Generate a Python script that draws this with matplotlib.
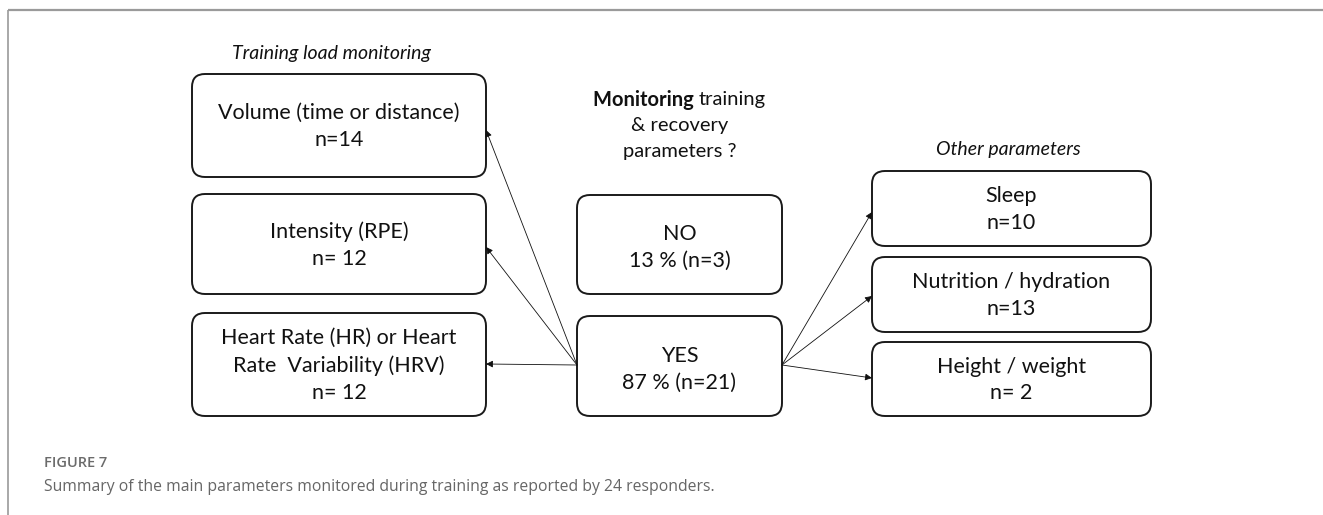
import matplotlib
matplotlib.use("Agg")
import matplotlib.pyplot as plt
from matplotlib.patches import FancyBboxPatch

# ---- data ----
left_title = "Training load monitoring"
left_labels = ["Volume (time or distance)", "Intensity (RPE)", "Heart Rate (HR) or Heart\nRate  Variability (HRV)"]
left_counts = ["n=14", "n= 12", "n= 12"]

question_bold = "Monitoring"
question_rest = ["training", "& recovery", "parameters ?"]
answer_labels = ["NO", "YES"]
answer_pcts = ["13 % (n=3)", "87 % (n=21)"]

right_title = "Other parameters"
right_labels = ["Sleep", "Nutrition / hydration", "Height / weight"]
right_counts = ["n=10", "n=13", "n= 2"]

caption_head = "FIGURE 7"
caption_text = "Summary of the main parameters monitored during training as reported by 24 responders."

# ---- layout (pixel coordinates) ----
W, H = 1323, 515
left_x = (192, 486)
left_y = [(74, 177), (194, 294), (313, 416)]
mid_x = (577, 782)
mid_y = [(195, 294), (316, 416)]
right_x = (872, 1151)
right_y = [(171, 246), (257, 332), (342, 416)]
left_arrow_y = [130, 247, 364]
right_arrow_y = [212, 296, 378]
origin_y = 365

FONT = "Lato"
FS = 15.5
EDGE = "#1a1a1a"

fig = plt.figure(figsize=(W / 100, H / 100), dpi=100)
ax = fig.add_axes([0, 0, 1, 1])
ax.set_xlim(0, W)
ax.set_ylim(H, 0)
ax.axis("off")

# frame
ax.plot([8, W], [10, 10], color="#9a9a9a", lw=1.6, solid_capstyle="butt")
ax.plot([8, 8], [10, H], color="#9a9a9a", lw=1.2, solid_capstyle="butt")


def box(x0, x1, y0, y1):
    p = FancyBboxPatch((x0, y0), x1 - x0, y1 - y0,
                       boxstyle="round,pad=0,rounding_size=13",
                       fc="white", ec=EDGE, lw=1.4, zorder=3)
    ax.add_patch(p)


def box_text(cx, cy, text):
    ax.text(cx, cy, text, ha="center", va="center", fontsize=FS,
            family=FONT, color="#111111", linespacing=1.42, zorder=4)


# left column
for (y0, y1), lab, n in zip(left_y, left_labels, left_counts):
    box(left_x[0], left_x[1], y0, y1)
    box_text((left_x[0] + left_x[1]) / 2, (y0 + y1) / 2 + 1, lab + "\n" + n)

ax.text(331, 53, left_title, ha="center", va="center", fontsize=FS - 1.5,
        family=FONT, style="italic", color="#111111")

# middle column
for (y0, y1), lab, p in zip(mid_y, answer_labels, answer_pcts):
    box(mid_x[0], mid_x[1], y0, y1)
    box_text((mid_x[0] + mid_x[1]) / 2, (y0 + y1) / 2 + 3, lab + "\n" + p)

qx = (mid_x[0] + mid_x[1]) / 2
renderer = fig.canvas.get_renderer()
tb = ax.text(0, 100, question_bold + " ", ha="left", va="center",
             fontsize=FS - 1, family=FONT, weight="bold", color="#111111")
tr = ax.text(0, 100, question_rest[0], ha="left", va="center",
             fontsize=FS - 1, family=FONT, color="#111111")
wb = tb.get_window_extent(renderer).width
wr = tr.get_window_extent(renderer).width
start = qx - (wb + wr) / 2
tb.set_x(start)
tr.set_x(start + wb)
ax.text(qx, 126, question_rest[1], ha="center", va="center",
        fontsize=FS - 1, family=FONT, color="#111111")
ax.text(qx, 151, question_rest[2], ha="center", va="center",
        fontsize=FS - 1, family=FONT, color="#111111")

# right column
for (y0, y1), lab, n in zip(right_y, right_labels, right_counts):
    box(right_x[0], right_x[1], y0, y1)
    box_text((right_x[0] + right_x[1]) / 2, (y0 + y1) / 2 + 1, lab + "\n" + n)

ax.text(1008, 150, right_title, ha="center", va="center", fontsize=FS - 1.5,
        family=FONT, style="italic", color="#111111")

# arrows
ap = dict(arrowstyle="-|>", color="#111111", lw=0.6, mutation_scale=10,
          shrinkA=0, shrinkB=0)
for ty in left_arrow_y:
    ax.annotate("", xy=(left_x[1], ty), xytext=(mid_x[0], origin_y),
                arrowprops=ap, zorder=5)
for ty in right_arrow_y:
    ax.annotate("", xy=(right_x[0], ty), xytext=(mid_x[1], origin_y),
                arrowprops=ap, zorder=5)

# caption
ax.text(44, 463, caption_head, ha="left", va="center", fontsize=10.5,
        family="Open Sans", weight="semibold", color="#6b6b6b")
ax.text(44, 487, caption_text, ha="left", va="center", fontsize=11.3,
        family="Open Sans", color="#666666")

fig.savefig("out.png", dpi=100)
